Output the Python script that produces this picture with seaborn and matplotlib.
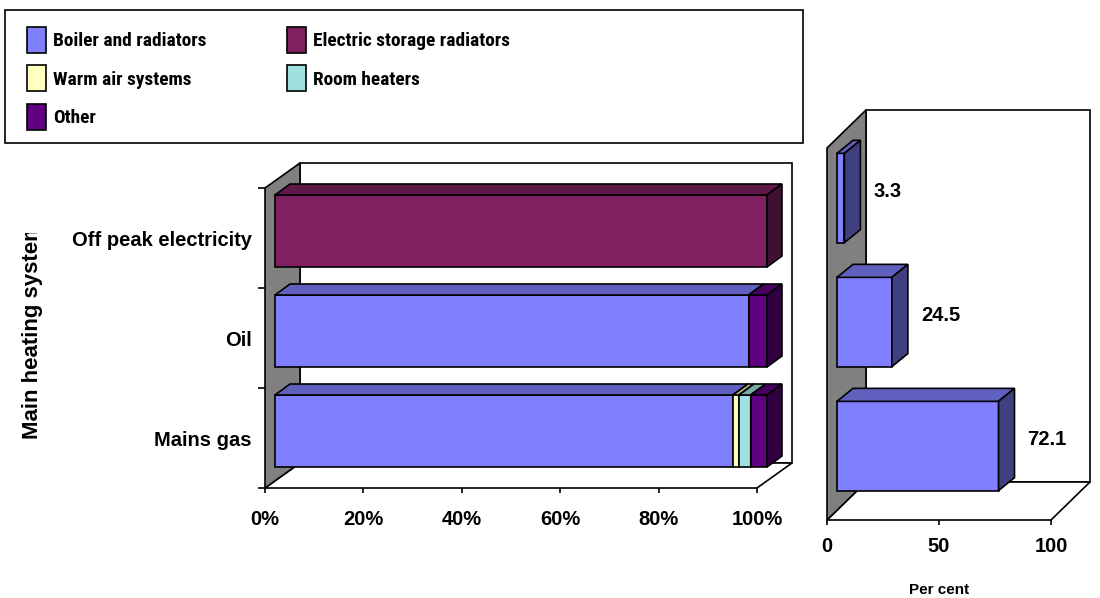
import matplotlib
matplotlib.use("Agg")
import matplotlib.pyplot as plt
import matplotlib.colors as mcolors
from matplotlib import font_manager
from matplotlib.font_manager import FontProperties
from matplotlib.patches import Polygon, Rectangle, Patch
from matplotlib.transforms import ScaledTranslation, IdentityTransform, Bbox
import numpy as np
import seaborn as sns

# ---- data -----------------------------------------------------------------
categories = ["Off peak electricity", "Oil", "Mains gas"]
system_types = ["Boiler and radiators", "Electric storage radiators",
                "Warm air systems", "Room heaters", "Other"]
boiler_radiators = [0.0, 96.3, 93.1]
storage_radiators = [100.0, 0.0, 0.0]
warm_air = [0.0, 0.0, 1.2]
room_heaters = [0.0, 0.0, 2.4]
other = [0.0, 3.7, 3.3]
household_share = [3.3, 24.5, 72.1]

pct_ticks = [0, 20, 40, 60, 80, 100]
pct_labels = ["0%", "20%", "40%", "60%", "80%", "100%"]
share_ticks = [0, 50, 100]
share_labels = ["0", "50", "100"]

colours = ["#8080FF", "#802060", "#FFFFC0", "#A0E0E0", "#600080"]
WALL = "#808080"

# ---- figure set-up --------------------------------------------------------
W, H, DPI = 1100, 598, 100
sns.set_style("white")
plt.rcParams["font.family"] = ["Liberation Sans", "DejaVu Sans"]
plt.rcParams["font.weight"] = "bold"
plt.rcParams["axes.labelweight"] = "bold"
for key in ("text.color", "axes.labelcolor", "xtick.color", "ytick.color"):
    plt.rcParams[key] = "black"

fig = plt.figure(figsize=(W / DPI, H / DPI), dpi=DPI)
renderer = fig.canvas.get_renderer()


def narrow_bold_font():
    """A condensed bold face for the legend, if one is installed."""
    prefs = ["Liberation Sans Narrow", "Arial Narrow", "Roboto Condensed",
             "Noto Sans", "Open Sans", "Roboto", "Lato", "Inter"]
    narrow = ("condensed", "semi-condensed", "extra-condensed", "ultra-condensed")
    found = {}
    for f in font_manager.fontManager.ttflist:
        w = f.weight if isinstance(f.weight, int) else {"bold": 700}.get(f.weight, 400)
        is_narrow = ("Narrow" in f.name or "Condensed" in f.name
                     or f.stretch in narrow or "Condensed" in f.fname
                     or "Narrow" in f.fname)
        if is_narrow and 600 <= w <= 750 and "Italic" not in f.fname:
            found.setdefault(f.name, f.fname)
    for name in prefs:
        if name in found:
            return FontProperties(fname=found[name])
    if found:
        return FontProperties(fname=sorted(found.values())[0])
    return FontProperties(family="Liberation Sans", weight="bold")


def fit_size(prop, text, target_px):
    p = prop.copy()
    p.set_size(10)
    w, _, _ = renderer.get_text_width_height_descent(text, p, ismath=False)
    return 10 * target_px / w


legend_prop = narrow_bold_font()
legend_prop.set_size(fit_size(legend_prop, system_types[1], 197))


def fig_rect(x0, y0, x1, y1):
    """Pixel box (top-down) -> figure fraction [left, bottom, width, height]."""
    return [x0 / W, 1 - y1 / H, (x1 - x0) / W, (y1 - y0) / H]


def shift(dx, dy):
    return ScaledTranslation(dx / DPI, dy / DPI, fig.dpi_scale_trans)


def shade(colour, f):
    r, g, b = mcolors.to_rgb(colour)
    return (r * f, g * f, b * f)


LW = 1.2
IDENT = IdentityTransform()
TICK_FS = 14.5


def draw_box(ax, depth):
    """Side wall, back wall and floor of a 3-D plot area."""
    (x0, y0), (x1, y1) = ax.transAxes.transform([(0, 0), (1, 1)])
    dx, dy = depth
    back = [(x0 + dx, y0 + dy), (x1 + dx, y0 + dy), (x1 + dx, y1 + dy), (x0 + dx, y1 + dy)]
    floor = [(x0, y0), (x1, y0), (x1 + dx, y0 + dy), (x0 + dx, y0 + dy)]
    side = [(x0, y0), (x0 + dx, y0 + dy), (x0 + dx, y1 + dy), (x0, y1)]
    for verts, fc in ((back, "white"), (floor, "white"), (side, WALL)):
        ax.add_patch(Polygon(verts, closed=True, facecolor=fc, edgecolor="black",
                             lw=LW, transform=IDENT, clip_on=False, zorder=1))


def bars(ax, series, cols):
    """Stacked horizontal bars; returns (patch, layer, colour) for each bar."""
    drawn = []
    left = np.zeros(len(categories))
    for k, (vals, col) in enumerate(zip(series, cols)):
        n0 = len(ax.patches)
        sns.barplot(x=vals, y=categories, orient="h", left=left, color=col,
                    saturation=1, width=0.72, edgecolor="black", linewidth=LW,
                    errorbar=None, ax=ax)
        for p in ax.patches[n0:]:
            drawn.append((p, k, col))
        left = left + np.asarray(vals)
    return drawn


def extrude(ax, drawn, front, depth):
    dx, dy = depth
    for p, k, col in drawn:
        if p.get_width() <= 0:
            p.set_visible(False)
            continue
        z = 10 + 3 * k
        p.set_transform(ax.transData + shift(*front))
        p.set_zorder(z)
        p.set_clip_on(False)
        bb = p.get_window_extent()
        x0, y0, x1, y1 = bb.x0, bb.y0, bb.x1, bb.y1
        top = [(x0, y1), (x1, y1), (x1 + dx, y1 + dy), (x0 + dx, y1 + dy)]
        side = [(x1, y0), (x1 + dx, y0 + dy), (x1 + dx, y1 + dy), (x1, y1)]
        ax.add_patch(Polygon(top, closed=True, facecolor=shade(col, 0.75),
                             edgecolor="black", lw=LW, transform=IDENT,
                             clip_on=False, zorder=z + 1))
        ax.add_patch(Polygon(side, closed=True, facecolor=shade(col, 0.5),
                             edgecolor="black", lw=LW, transform=IDENT,
                             clip_on=False, zorder=z + 2))


def tidy(ax):
    for s in ax.spines.values():
        s.set_visible(False)
    ax.patch.set_visible(False)
    ax.grid(False)


# ---- left: composition of heating system by fuel --------------------------
ax1 = fig.add_axes(fig_rect(265, 188, 757, 488))
tidy(ax1)
left_drawn = bars(ax1, [boiler_radiators, storage_radiators, warm_air,
                        room_heaters, other], colours)
ax1.set_xlim(0, 100)
ax1.set_ylim(len(categories) - 0.5, -0.5)
draw_box(ax1, (35, 25))
extrude(ax1, left_drawn, front=(10, 7), depth=(15, 11))

ax1.set_xticks(pct_ticks, pct_labels)
ax1.set_yticks(range(len(categories)), categories)
ax1.set_yticks(np.arange(len(categories) + 1) - 0.5, minor=True)
ax1.tick_params(axis="x", direction="out", length=3.6, width=LW, color="black",
                labelcolor="black", pad=12, labelsize=TICK_FS, bottom=True)
ax1.tick_params(axis="y", which="major", length=0, pad=9.4, labelsize=TICK_FS,
                labelcolor="black", left=True)
ax1.tick_params(axis="y", which="minor", direction="out", length=5, width=LW,
                color="black", left=True)
ax1.set_xlabel("")
ax1.set_ylabel("")

# axis title, cut off at the top by the plot frame
ylab = fig.text(33 / W, 1 - 330 / H, "Main heating system", rotation=90,
                ha="center", va="center", fontsize=16, fontweight="bold",
                color="black")
ylab.set_clip_box(Bbox.from_extents(0, 0, W, H - 233))
ylab.set_clip_on(True)

# ---- right: share of households by fuel -----------------------------------
ax2 = fig.add_axes(fig_rect(827, 148, 1051, 520))
tidy(ax2)
right_drawn = bars(ax2, [household_share], [colours[0]])
ax2.set_xlim(0, 100)
ax2.set_ylim(len(categories) - 0.5, -0.5)
draw_box(ax2, (39, 38))
extrude(ax2, right_drawn, front=(10, 12), depth=(16, 13))

for i, v in enumerate(household_share):
    ax2.text(v, i, f"{v:.1f}", transform=ax2.transData + shift(39, 18.5),
             ha="left", va="center", fontsize=TICK_FS, fontweight="bold",
             color="black", clip_on=False)

ax2.set_xticks(share_ticks, share_labels)
ax2.set_yticks([])
ax2.tick_params(axis="x", direction="out", length=3.6, width=LW, color="black",
                labelcolor="black", pad=9, labelsize=TICK_FS, bottom=True)
ax2.set_ylabel("")
ax2.set_xlabel("Per cent", fontsize=11, fontweight="bold", color="black")
ax2.xaxis.set_label_coords(0.5, -(583 - 520) / 372)

# ---- legend ---------------------------------------------------------------
fig.add_artist(Rectangle((5 / W, 1 - 143 / H), 798 / W, 133 / H,
                         transform=fig.transFigure, facecolor="white",
                         edgecolor="black", lw=LW, zorder=0))
handles = [Patch(facecolor=c, edgecolor="black", lw=LW) for c in colours]
fs_px = legend_prop.get_size_in_points() * DPI / 72
swatch_h = 26
hh = (swatch_h / fs_px - 0.245) / 0.65
leg_kw = dict(loc="upper left", frameon=False, borderpad=0, borderaxespad=0,
              handlelength=19 / fs_px, handleheight=hh,
              handletextpad=7 / fs_px, labelspacing=(38.5 - swatch_h) / fs_px,
              prop=legend_prop, labelcolor="black")
fig.legend([handles[0], handles[2], handles[4]],
           [system_types[0], system_types[2], system_types[4]],
           bbox_to_anchor=(27 / W, 1 - 27 / H), **leg_kw)
fig.legend([handles[1], handles[3]], [system_types[1], system_types[3]],
           bbox_to_anchor=(287 / W, 1 - 27 / H), **leg_kw)

fig.savefig("out.png", dpi=DPI)
